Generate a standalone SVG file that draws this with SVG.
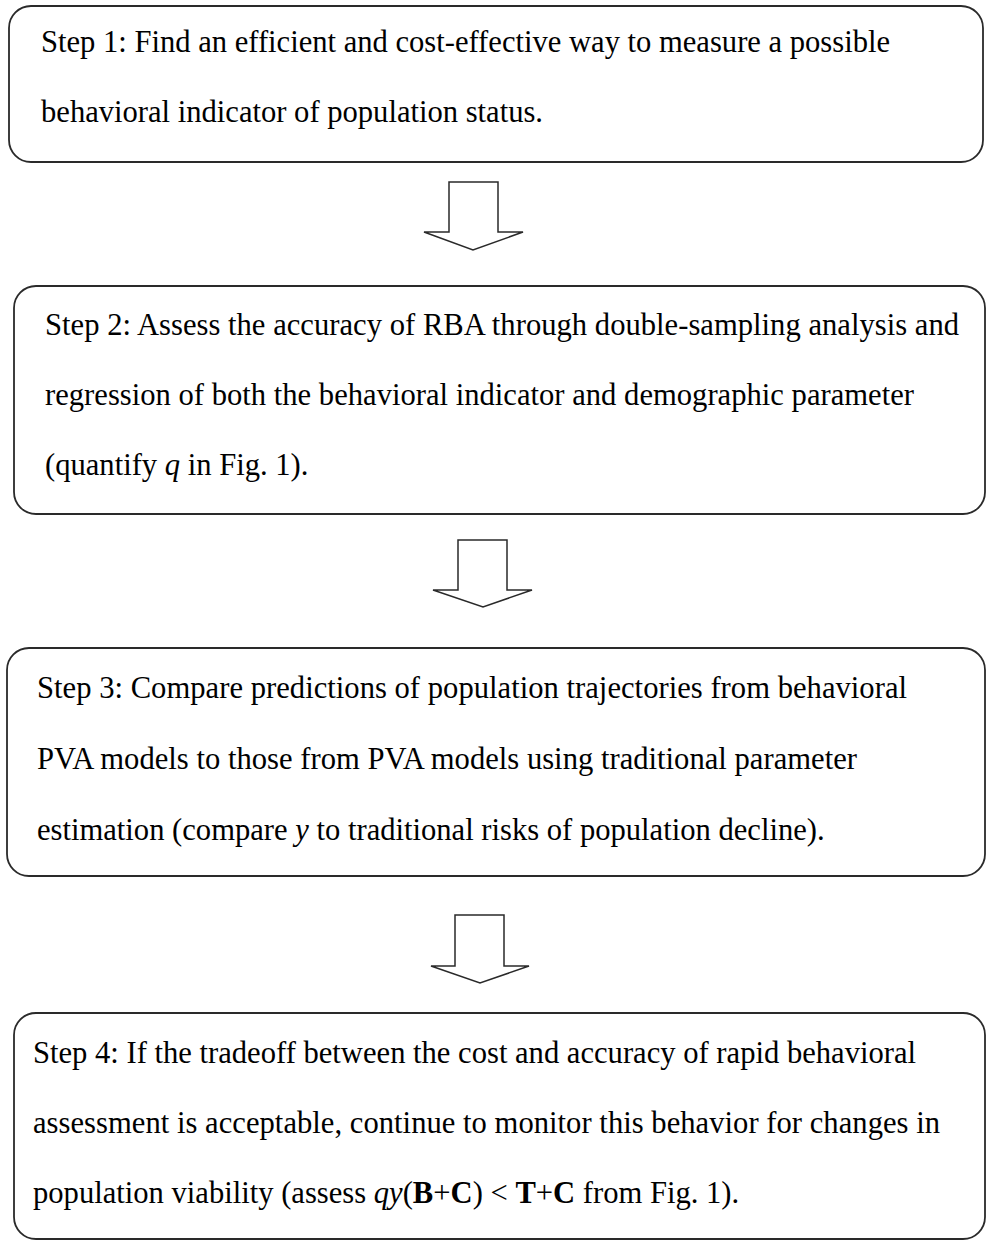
<svg xmlns="http://www.w3.org/2000/svg" width="987" height="1241" viewBox="0 0 987 1241">
<style>
.box{fill:#fff;stroke:#2a2a2a;stroke-width:1.8}
.arr{fill:#fff;stroke:#2a2a2a;stroke-width:1.5;stroke-linejoin:miter}
</style>
<rect width="987" height="1241" fill="#fff"/>
<g font-family="Liberation Serif" font-size="30.6" fill="#000">
<g id="step1">
<rect class="box" x="9" y="6" width="974" height="156" rx="22"/>
<text x="41" y="52" textLength="849" lengthAdjust="spacing">Step 1: Find an efficient and cost-effective way to measure a possible</text>
<text x="41" y="122" textLength="502" lengthAdjust="spacing">behavioral indicator of population status.</text>
</g>
<g id="step2">
<rect class="box" x="14" y="286" width="971" height="228" rx="22"/>
<text x="45" y="335" textLength="914" lengthAdjust="spacing">Step 2: Assess the accuracy of RBA through double-sampling analysis and</text>
<text x="45" y="405" textLength="869" lengthAdjust="spacing">regression of both the behavioral indicator and demographic parameter</text>
<text x="45" y="475">(quantify <tspan font-style="italic">q</tspan> in Fig. 1).</text>
</g>
<g id="step3">
<rect class="box" x="7" y="648" width="978" height="228" rx="22"/>
<text x="37" y="698" textLength="870" lengthAdjust="spacing">Step 3: Compare predictions of population trajectories from behavioral</text>
<text x="37" y="769" textLength="820" lengthAdjust="spacing">PVA models to those from PVA models using traditional parameter</text>
<text x="37" y="840">estimation (compare <tspan font-style="italic">y</tspan> to traditional risks of population decline).</text>
</g>
<g id="step4">
<rect class="box" x="14" y="1013" width="971" height="226" rx="22"/>
<text x="33" y="1063" textLength="883" lengthAdjust="spacing">Step 4: If the tradeoff between the cost and accuracy of rapid behavioral</text>
<text x="33" y="1133" textLength="907" lengthAdjust="spacing">assessment is acceptable, continue to monitor this behavior for changes in</text>
<text x="33" y="1203">population viability (assess <tspan font-style="italic">qy</tspan>(<tspan font-weight="bold">B</tspan>+<tspan font-weight="bold">C</tspan>) &lt; <tspan font-weight="bold">T</tspan>+<tspan font-weight="bold">C</tspan> from Fig. 1).</text>
</g>
</g>
<g id="connectors">
<polygon class="arr" points="449,182 498,182 498,232 523,232 473,250 424,232 449,232"/>
<polygon class="arr" points="458,540 507,540 507,590 532,590 483,607 433,590 458,590"/>
<polygon class="arr" points="455,915 504,915 504,966 529,966 480,983 431,966 455,966"/>
</g>
</svg>
